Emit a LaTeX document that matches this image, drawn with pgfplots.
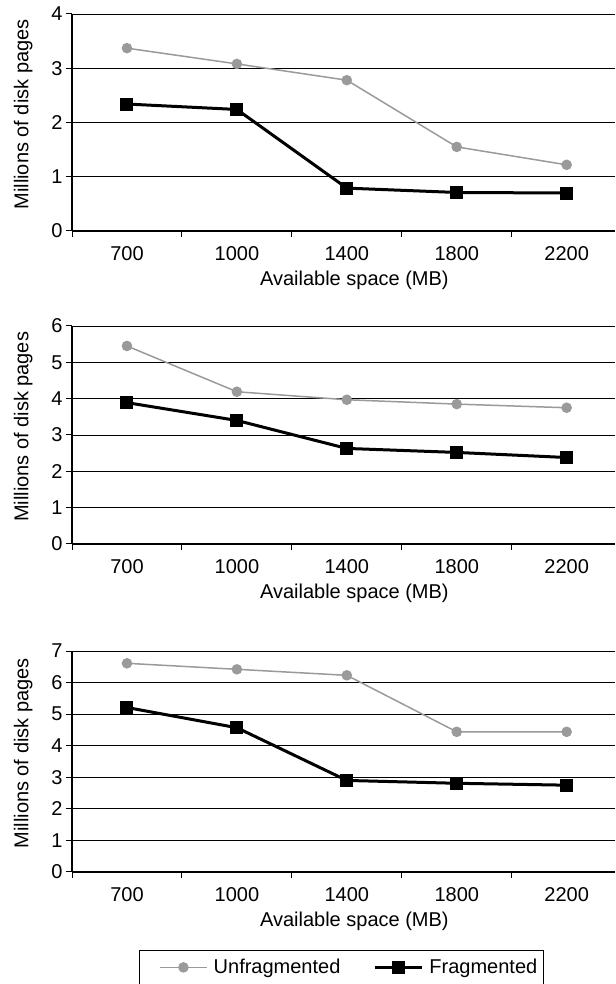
\documentclass[border=0pt]{standalone}
\usepackage{pgfplots}
\pgfplotsset{compat=1.18}
\usepackage{fontspec}
\setmainfont{Liberation Sans}
\definecolor{unfrag}{HTML}{9A9A9A}

\pgfplotsset{
  panel/.style={
    scale only axis, width=543pt, xmin=0.5, xmax=5.44, ymin=0,
    axis x line*=bottom, axis y line*=left,
    axis line style={line width=1.2pt},
    ymajorgrids, grid style={black, line width=0.8pt},
    xtick={0.5,1.5,2.5,3.5,4.5}, xticklabels={700,1000,1400,1800,2200},
    xticklabel style={xshift=55pt, yshift=-6pt},
    ytick distance=1,
    tick align=outside, major tick length=6pt, tick style={black, line width=1pt},
    font=\fontsize{20}{24}\selectfont,
    /pgf/number format/assume math mode=true,
    xlabel={Available space (MB)}, ylabel={Millions of disk pages},
    xlabel style={at={(axis description cs:0.52,0)}, anchor=center, yshift=-49pt},
    ylabel style={at={(axis description cs:-0.09,0.537)}, anchor=center},
  },
  unf/.style={color=unfrag, line width=1.5pt, mark=*, mark size=4.5pt},
  frg/.style={black, line width=3pt, mark=square*, mark size=5pt},
}

\begin{document}
\begin{tikzpicture}
% panel 1
\begin{axis}[panel, at={(72pt,753pt)}, anchor=south west, height=217pt, ymax=4]
\addplot[unf] coordinates {(1,3.37) (2,3.08) (3,2.78) (4,1.55) (5,1.22)};
\addplot[frg] coordinates {(1,2.34) (2,2.24) (3,0.79) (4,0.71) (5,0.70)};
\end{axis}
% panel 2
\begin{axis}[panel, at={(72pt,440pt)}, anchor=south west, height=218pt, ymax=6]
\addplot[unf] coordinates {(1,5.45) (2,4.19) (3,3.97) (4,3.85) (5,3.75)};
\addplot[frg] coordinates {(1,3.89) (2,3.40) (3,2.63) (4,2.52) (5,2.38)};
\end{axis}
% panel 3
\begin{axis}[panel, at={(72pt,112pt)}, anchor=south west, height=221pt, ymax=7,
  legend columns=2,
  legend style={at={(axis description cs:0.123,-0.353)}, anchor=north west,
    draw=black, line width=0.8pt, inner xsep=4pt, inner ysep=7pt,
    font=\fontsize{20}{24}\selectfont,
    /tikz/every odd column/.append style={column sep=4pt},
    /tikz/every even column/.append style={column sep=15pt}},
  legend image code/.code={\path (0pt,0pt);
    \draw[mark repeat=2,mark phase=2] plot coordinates {(16pt,0pt) (39.5pt,0pt) (63pt,0pt)};}]
\addplot[unf] coordinates {(1,6.61) (2,6.42) (3,6.23) (4,4.44) (5,4.44)};
\addplot[frg] coordinates {(1,5.21) (2,4.57) (3,2.90) (4,2.81) (5,2.75)};
\legend{Unfragmented, Fragmented}
\end{axis}
\pgfresetboundingbox
\path[use as bounding box] (0,0) rectangle (615pt,984pt);
\end{tikzpicture}
\end{document}
